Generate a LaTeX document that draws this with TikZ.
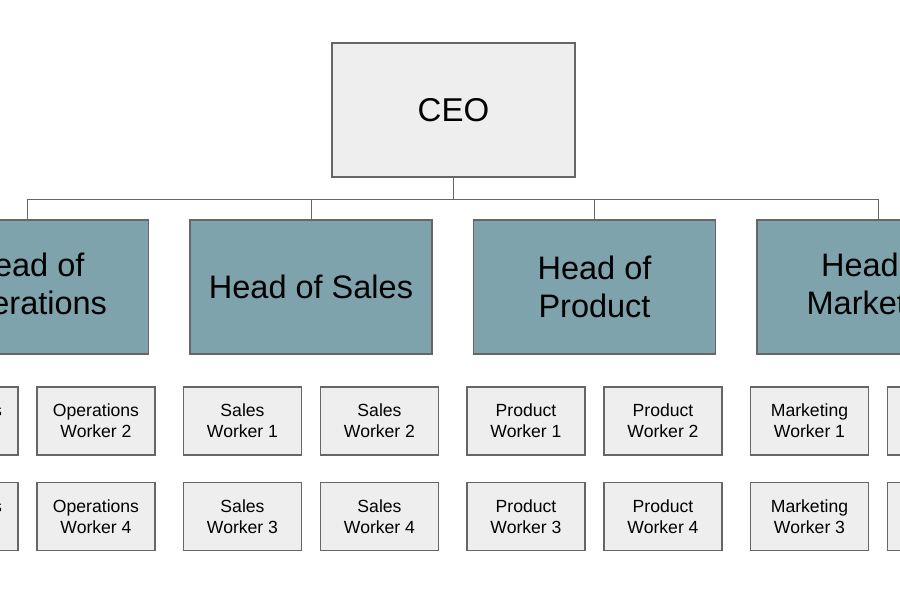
\documentclass[tikz,border=0pt]{standalone}
\usepackage{fontspec}
\setmainfont{Liberation Sans}
\definecolor{headfill}{HTML}{7FA3AC}
\definecolor{boxfill}{HTML}{EEEEEE}
\definecolor{edge}{HTML}{666666}

\begin{document}
\begin{tikzpicture}[x=1pt, y=-1pt, every node/.style={draw=edge, line width=1.2pt, align=center, inner sep=0pt},
    head/.style={fill=headfill, minimum width=242pt, minimum height=134pt, font=\fontsize{32.5}{38}\selectfont},
    worker/.style={fill=boxfill, minimum width=118pt, minimum height=68pt, font=\fontsize{17.6}{21}\selectfont}]
    \useasboundingbox (0,0) rectangle (900,600);
    \clip (0,0) rectangle (900,600);

    \node[head, fill=boxfill, minimum width=243pt, font=\fontsize{33}{38}\selectfont] (ceo) at (453.5,110) {CEO};
    \node[head] (ops) at (27.5,287) {Head of\\Operations};
    \node[head] (sales) at (311,287) {Head of Sales};
    \node[head] (prod) at (594.5,287) {Head of\\Product};
    \node[head] (mkt) at (878,287) {Head of\\Marketing};

    \node[worker] (ops1) at (-41,421) {Operations\\Worker 1};
    \node[worker] (ops2) at (96,421) {Operations\\Worker 2};
    \node[worker] (ops3) at (-41,516.5) {Operations\\Worker 3};
    \node[worker] (ops4) at (96,516.5) {Operations\\Worker 4};
    \node[worker] (sales1) at (242.5,421) {Sales\\Worker 1};
    \node[worker] (sales2) at (379.5,421) {Sales\\Worker 2};
    \node[worker] (sales3) at (242.5,516.5) {Sales\\Worker 3};
    \node[worker] (sales4) at (379.5,516.5) {Sales\\Worker 4};
    \node[worker] (prod1) at (526,421) {Product\\Worker 1};
    \node[worker] (prod2) at (663,421) {Product\\Worker 2};
    \node[worker] (prod3) at (526,516.5) {Product\\Worker 3};
    \node[worker] (prod4) at (663,516.5) {Product\\Worker 4};
    \node[worker] (mkt1) at (809.5,421) {Marketing\\Worker 1};
    \node[worker] (mkt2) at (946.5,421) {Marketing\\Worker 2};
    \node[worker] (mkt3) at (809.5,516.5) {Marketing\\Worker 3};
    \node[worker] (mkt4) at (946.5,516.5) {Marketing\\Worker 4};

    \coordinate (bar) at (453.5,199);
    \draw[edge, line width=1pt] (ceo.south) -- (bar);
    \draw[edge, line width=1pt] (bar) -| (ops.north);
    \draw[edge, line width=1pt] (bar) -| (sales.north);
    \draw[edge, line width=1pt] (bar) -| (prod.north);
    \draw[edge, line width=1pt] (bar) -| (mkt.north);

  \end{tikzpicture}
\end{document}
